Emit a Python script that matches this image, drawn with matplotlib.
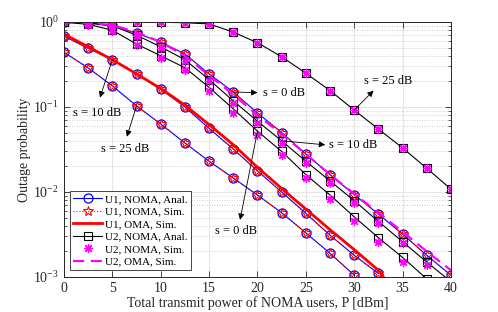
import matplotlib.pyplot as plt
from matplotlib.ticker import LogLocator, NullFormatter

plt.rcParams['font.family'] = 'Liberation Serif'
plt.rcParams['mathtext.fontset'] = 'stix'

# transmit power grid (dBm), markers every 2.5 dB
p_dbm = [0, 2.5, 5, 7.5, 10, 12.5, 15, 17.5, 20, 22.5, 25, 27.5, 30, 32.5, 35, 37.5, 40]

# U1, NOMA (analysis and simulation points sit on top of each other)
u1_s0 = [1.0, 0.97, 0.90, 0.74, 0.58, 0.42, 0.245, 0.15, 0.085, 0.050, 0.028, 0.016, 0.0093, 0.0055, 0.0032, 0.0018, 0.00105]
u1_s10 = [0.68, 0.49, 0.36, 0.245, 0.162, 0.10, 0.056, 0.032, 0.0177, 0.010, 0.0056, 0.0031, 0.0018, 0.0011]
u1_s25 = [0.44, 0.288, 0.177, 0.103, 0.063, 0.0377, 0.023, 0.0146, 0.0092, 0.0057, 0.0033, 0.0019, 0.00105]
# U1, OMA
u1_oma = [0.72, 0.51, 0.36, 0.245, 0.165, 0.105, 0.062, 0.036, 0.0195, 0.011, 0.0063, 0.0036, 0.0021, 0.0012, 0.0005]

# U2, NOMA analysis
u2_s0 = [0.99, 0.94, 0.80, 0.55, 0.40, 0.29, 0.17, 0.095, 0.052, 0.030, 0.016, 0.0092, 0.0051, 0.0029, 0.0017, 0.00095]
u2_s10 = [1.0, 0.98, 0.90, 0.70, 0.51, 0.36, 0.21, 0.118, 0.068, 0.040, 0.023, 0.0135, 0.0079, 0.0045, 0.0026, 0.0015, 0.00088]
u2_s25 = [1.0, 1.0, 1.0, 1.0, 0.995, 0.98, 0.95, 0.76, 0.57, 0.39, 0.25, 0.156, 0.092, 0.055, 0.033, 0.019, 0.0108]
# U2, NOMA simulation (a touch below the analysis for s = 0 dB)
u2_s0_sim = [0.99, 0.93, 0.78, 0.53, 0.38, 0.27, 0.155, 0.086, 0.047, 0.027, 0.0145, 0.0083, 0.0046, 0.0026, 0.0015, 0.00085]
u2_s10_sim = [1.0, 0.98, 0.89, 0.69, 0.50, 0.35, 0.20, 0.112, 0.064, 0.038, 0.022, 0.0128, 0.0075, 0.0043, 0.0025, 0.0014, 0.00084]
u2_s25_sim = u2_s25
# U2, OMA
u2_oma = [1.0, 0.98, 0.92, 0.76, 0.58, 0.40, 0.235, 0.14, 0.080, 0.048, 0.028, 0.016, 0.0095, 0.0057, 0.0034, 0.0020, 0.0012]

u1_anal = [u1_s0, u1_s10, u1_s25]
u2_anal = [u2_s0, u2_s10, u2_s25]
u2_sim = [u2_s0_sim, u2_s10_sim, u2_s25_sim]

fig = plt.figure(figsize=(4.98, 3.12), dpi=100)
ax = fig.add_axes([0.1285, 0.1122, 0.777, 0.8173])

for i, y in enumerate(u1_anal):
    ax.plot(p_dbm[:len(y)], y, color='blue', lw=0.8, marker='o', ms=6.5, mfc='none', mew=0.9,
            label='U1, NOMA, Anal.' if i == 0 else None)
for i, y in enumerate(u1_anal):
    ax.plot(p_dbm[:len(y)], y, color='red', lw=0.8, ls=':', marker='*', ms=7, mfc='none', mew=0.8,
            label='U1, NOMA, Sim.' if i == 0 else None)
ax.plot(p_dbm[:len(u1_oma)], u1_oma, color='red', lw=2, label='U1, OMA, Sim.')

for i, y in enumerate(u2_anal):
    ax.plot(p_dbm[:len(y)], y, color='black', lw=0.8, marker='s', ms=6, mfc='none', mew=0.8,
            label='U2, NOMA, Anal.' if i == 0 else None)
for i, y in enumerate(u2_sim):
    ax.plot(p_dbm[:len(y)], y, ls='none', color='magenta', marker=(8, 2, 0), ms=6.5, mew=0.9,
            label='U2, NOMA, Sim.' if i == 0 else None)
ax.plot(p_dbm, u2_oma, color='magenta', lw=1.6, ls=(0, (5, 3)), label='U2, OMA, Sim.')

ax.set_yscale('log')
ax.set_xlim(0, 40)
ax.set_ylim(1e-3, 1)
ax.set_xticks(range(0, 41, 5))
ax.yaxis.set_major_locator(LogLocator(base=10, numticks=10))
ax.yaxis.set_minor_locator(LogLocator(base=10, subs=range(2, 10), numticks=10))
ax.yaxis.set_minor_formatter(NullFormatter())

ax.grid(True, which='major', color='0.9', lw=0.8, ls='-')
ax.grid(True, which='minor', axis='y', color='0.75', lw=0.6, ls=(0, (1, 2)))
ax.set_axisbelow(True)

ax.tick_params(which='both', direction='in', top=True, right=True, colors='0.15', labelcolor='0.15', labelsize=10)
ax.tick_params(which='major', length=4, width=0.6)
ax.tick_params(which='minor', length=2, width=0.5)
for sp in ax.spines.values():
    sp.set_color('0.15')
    sp.set_linewidth(0.7)

ax.set_xlabel('Total transmit power of NOMA users, P [dBm]', fontsize=10, color='0.15', labelpad=1)
ax.set_ylabel('Outage probability', fontsize=10, color='0.15', labelpad=2)

# s labels with arrows pointing from curve to text
arrow = dict(arrowstyle='-|>', color='black', lw=0.6, mutation_scale=9, shrinkA=0, shrinkB=0)
ax.annotate('', xy=(3.72, 0.129), xytext=(5, 0.36), arrowprops=arrow)
ax.text(3.4, 0.0857, 's = 10 dB', fontsize=9, ha='center', va='center')
ax.annotate('', xy=(6.5, 0.0447), xytext=(7.5, 0.103), arrowprops=arrow)
ax.text(6.3, 0.0322, 's = 25 dB', fontsize=9, ha='center', va='center')
ax.annotate('', xy=(18.2, 0.0047), xytext=(20, 0.052), arrowprops=arrow)
ax.text(17.8, 0.00347, 's = 0 dB', fontsize=9, ha='center', va='center')
ax.annotate('', xy=(20.0, 0.1475), xytext=(17.5, 0.15), arrowprops=arrow)
ax.text(20.6, 0.1475, 's = 0 dB', fontsize=9, ha='left', va='center')
ax.annotate('', xy=(27.0, 0.0359), xytext=(22.5, 0.040), arrowprops=arrow)
ax.text(27.4, 0.0359, 's = 10 dB', fontsize=9, ha='left', va='center')
ax.annotate('', xy=(32.0, 0.156), xytext=(30, 0.092), arrowprops=arrow)
ax.text(33.5, 0.204, 's = 25 dB', fontsize=9, ha='center', va='center')

leg = ax.legend(loc='lower left', bbox_to_anchor=(0.015, 0.027), borderaxespad=0, fontsize=8,
                handlelength=2.6, handletextpad=0.3, labelspacing=0.25, borderpad=0.3,
                fancybox=False, framealpha=1, edgecolor='0.15')
leg.get_frame().set_linewidth(0.6)

plt.savefig('out.png', dpi=100)
